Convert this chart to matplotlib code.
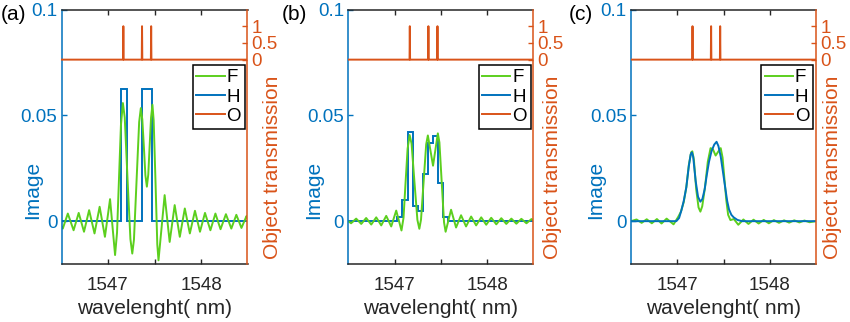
import numpy as np
import matplotlib.pyplot as plt

plt.rcParams['font.family'] = ['Liberation Sans', 'DejaVu Sans']

BLUE = '#0072BD'
RED = '#D95319'
GREEN = '#5CCF1E'

# (a) full image F, hologram image H
wl_fa = [1546.500, 1546.514, 1546.568, 1546.630, 1546.685, 1546.742, 1546.797,
         1546.855, 1546.910, 1546.967, 1547.022, 1547.076, 1547.097, 1547.118,
         1547.139, 1547.160, 1547.180, 1547.210, 1547.241, 1547.261, 1547.279,
         1547.307, 1547.335, 1547.353, 1547.369, 1547.386, 1547.402, 1547.418,
         1547.433, 1547.448, 1547.463, 1547.478, 1547.491, 1547.511, 1547.530,
         1547.543, 1547.576, 1547.609, 1547.663, 1547.717, 1547.772, 1547.826,
         1547.880, 1547.935, 1547.989, 1548.043, 1548.101, 1548.155, 1548.210,
         1548.268, 1548.326, 1548.380, 1548.435, 1548.489, 1548.500]
img_fa = [-0.0025, -0.0035, 0.0036, -0.0043, 0.0039, -0.0050, 0.0052,
          -0.0058, 0.0068, -0.0074, 0.0104, -0.0160, -0.0055, 0.0199,
          0.0453, 0.0558, 0.0490, 0.0200, -0.0085, -0.0153, -0.0088,
          0.0190, 0.0468, 0.0534, 0.0480, 0.0349, 0.0217, 0.0163,
          0.0220, 0.0357, 0.0490, 0.0550, 0.0476, 0.0183, -0.0110,
          -0.0185, -0.0031, 0.0123, -0.0098, 0.0076, -0.0074, 0.0060,
          -0.0058, 0.0049, -0.0050, 0.0039, -0.0043, 0.0036, -0.0038,
          0.0033, -0.0035, 0.0030, -0.0032, 0.0024, 0.0015]
edges_ha = [1546.5, 1547.141, 1547.199, 1547.362, 1547.470, 1548.5]
img_ha = [0, 0.0625, 0, 0.0625, 0]

# (b)
wl_fb = [1546.500, 1546.530, 1546.585, 1546.640, 1546.693, 1546.748, 1546.802,
         1546.856, 1546.910, 1546.964, 1547.018, 1547.075, 1547.097, 1547.119,
         1547.141, 1547.163, 1547.184, 1547.215, 1547.247, 1547.268, 1547.286,
         1547.314, 1547.342, 1547.360, 1547.388, 1547.416, 1547.442, 1547.468,
         1547.485, 1547.510, 1547.535, 1547.552, 1547.611, 1547.665, 1547.719,
         1547.773, 1547.828, 1547.882, 1547.937, 1547.991, 1548.045, 1548.100,
         1548.154, 1548.208, 1548.263, 1548.317, 1548.371, 1548.426, 1548.480,
         1548.500]
img_fb = [0.0, -0.0010, 0.0012, -0.0013, 0.0015, -0.0016, 0.0018,
          -0.0020, 0.0025, -0.0025, 0.0050, -0.0044, 0.0016, 0.0182,
          0.0342, 0.0407, 0.0366, 0.0186, 0.0006, -0.0036, 0.0007,
          0.0185, 0.0363, 0.0405, 0.0334, 0.0262, 0.0338, 0.0415,
          0.0372, 0.0183, -0.0006, -0.0050, 0.0054, -0.0030, 0.0028,
          -0.0025, 0.0022, -0.0020, 0.0018, -0.0017, 0.0016, -0.0015,
          0.0014, -0.0013, 0.0012, -0.0012, 0.0011, -0.0010, 0.0010,
          0.0004]
edges_hb = [1546.5, 1547.03, 1547.085, 1547.14, 1547.195, 1547.25, 1547.305,
            1547.36, 1547.415, 1547.47, 1547.525, 1547.58, 1548.5]
img_hb = [0, 0.0020, 0.0100, 0.0422, 0.0070, 0.0048, 0.0225, 0.0368,
          0.0404, 0.0182, 0.0020, 0]

# (c)
wl_fc = [1546.500, 1546.560, 1546.615, 1546.670, 1546.725, 1546.780, 1546.830,
         1546.885, 1546.960, 1547.010, 1547.040, 1547.070, 1547.098, 1547.125,
         1547.150, 1547.163, 1547.180, 1547.205, 1547.230, 1547.250, 1547.270,
         1547.300, 1547.330, 1547.360, 1547.385, 1547.415, 1547.445, 1547.470,
         1547.490, 1547.510, 1547.530, 1547.550, 1547.575, 1547.612, 1547.660,
         1547.715, 1547.770, 1547.825, 1547.880, 1547.935, 1547.990, 1548.045,
         1548.100, 1548.155, 1548.210, 1548.265, 1548.320, 1548.375, 1548.430,
         1548.500]
img_fc = [0.0, 0.0008, -0.0008, 0.0009, -0.0010, 0.0010, -0.0011,
          0.0012, -0.0015, 0.0020, 0.0045, 0.0090, 0.0160, 0.0265,
          0.0325, 0.0330, 0.0290, 0.0150, 0.0065, 0.0045, 0.0070,
          0.0160, 0.0280, 0.0345, 0.0340, 0.0310, 0.0330, 0.0345,
          0.0300, 0.0200, 0.0100, 0.0030, 0.0005, 0.0010, -0.0017,
          0.0008, -0.0013, 0.0007, -0.0011, 0.0006, -0.0010, 0.0005,
          -0.0008, 0.0004, -0.0007, 0.0004, -0.0006, 0.0003, -0.0005,
          0.0]
wl_hc = [1546.500, 1546.990, 1547.020, 1547.044, 1547.070, 1547.098, 1547.125,
         1547.145, 1547.158, 1547.172, 1547.199, 1547.225, 1547.250, 1547.272,
         1547.296, 1547.320, 1547.343, 1547.370, 1547.400, 1547.425, 1547.445,
         1547.470, 1547.495, 1547.518, 1547.540, 1547.560, 1547.585, 1547.610,
         1547.650, 1547.700, 1548.500]
img_hc = [0.0, 0.0, 0.0015, 0.0050, 0.0095, 0.0160, 0.0260,
          0.0315, 0.0325, 0.0305, 0.0190, 0.0115, 0.0092, 0.0105,
          0.0150, 0.0220, 0.0280, 0.0330, 0.0362, 0.0375, 0.0355,
          0.0305, 0.0230, 0.0160, 0.0095, 0.0055, 0.0030, 0.0018,
          0.0006, 0.0, 0.0]

# object transmission: three narrow lines
obj_wl = [1546.500, 1547.162, 1547.165, 1547.168, 1547.363, 1547.366, 1547.369,
          1547.461, 1547.464, 1547.467, 1548.500]
obj_tr = [0, 0, 1, 0, 0, 1, 0, 0, 1, 0, 0]

panel_tags = ['(a)', '(b)', '(c)']
ax_left = [61.5, 348.3, 631.0]
ax_width = [186.0, 185.0, 185.0]
tag_x = [1.0, 281.5, 569.0]
llabel_x = [-0.106, -0.135, -0.14]
rlabel_x = [1.085, 1.054, 1.038]


def draw_panel(fig, k, f, h, stairs):
    W, H = 850.0, 322.0
    ax = fig.add_axes([ax_left[k] / W, (H - 263.5) / H, ax_width[k] / W, 254.0 / H])
    ax2 = ax.twinx()

    lf, = ax.plot(f[0], f[1], color=GREEN, lw=1.4, label='F')
    if stairs:
        lh = ax.stairs(h[1], h[0], baseline=None, color=BLUE, lw=1.4, label='H')
    else:
        lh, = ax.plot(h[0], h[1], color=BLUE, lw=1.4, label='H')
    lo, = ax2.plot(obj_wl, obj_tr, color=RED, lw=1.4, label='O')

    ax.set_xlim(1546.5, 1548.5)
    ax.set_ylim(-0.02, 0.1)
    ax2.set_ylim(-6.1, 1.5)

    ax.set_xticks([1547, 1547.5, 1548])
    ax.set_xticklabels(['1547', '', '1548'])
    ax.set_yticks([0, 0.05, 0.1])
    ax.set_yticklabels(['0', '0.05', '0.1'])
    ax2.set_yticks([0, 0.5, 1])
    ax2.set_yticklabels(['0', '0.5', '1'])

    ax.tick_params(axis='x', direction='in', top=True, length=3.5, width=1,
                   labelsize=13.5, pad=10, colors='#262626')
    ax.tick_params(axis='y', direction='in', length=3.5, width=1,
                   labelsize=13.5, pad=3, colors=BLUE)
    ax2.tick_params(axis='y', direction='in', length=3.5, width=1,
                    labelsize=13.5, pad=3, colors=RED)

    for s in ['top', 'bottom']:
        ax.spines[s].set_color('#262626')
        ax.spines[s].set_linewidth(1.1)
        ax2.spines[s].set_visible(False)
    ax.spines['left'].set_color(BLUE)
    ax.spines['left'].set_linewidth(1.1)
    ax.spines['right'].set_visible(False)
    ax2.spines['left'].set_visible(False)
    ax2.spines['right'].set_color(RED)
    ax2.spines['right'].set_linewidth(1.1)

    ax.set_xlabel('wavelenght( nm)', fontsize=15, color='#262626', labelpad=3)
    ax.set_ylabel('Image', fontsize=15, color=BLUE)
    ax.yaxis.set_label_coords(llabel_x[k], 0.29)
    ax2.set_ylabel('Object transmission', fontsize=15, color=RED)
    ax2.yaxis.set_label_coords(rlabel_x[k], 0.38)

    leg = ax2.legend([lf, lh, lo], ['F', 'H', 'O'], loc='upper right',
                     bbox_to_anchor=(0.985, 0.78), fontsize=13.5,
                     handlelength=1.5, handletextpad=0.1, borderpad=0.2,
                     labelspacing=0.12, borderaxespad=0, fancybox=False,
                     framealpha=1, edgecolor='black')
    leg.get_frame().set_linewidth(1.1)
    # plain line handles for H even when drawn as stairs
    for ln, c in zip(leg.get_lines(), [GREEN, BLUE, RED]):
        ln.set_color(c)
        ln.set_linewidth(1.4)

    fig.text(tag_x[k] / W, 1 - 15.0 / H, panel_tags[k], fontsize=15,
             va='center', ha='left', color='black')
    return ax


def main():
    fig = plt.figure(figsize=(8.5, 3.22), dpi=100)
    draw_panel(fig, 0, (wl_fa, img_fa), (edges_ha, img_ha), True)
    draw_panel(fig, 1, (wl_fb, img_fb), (edges_hb, img_hb), True)
    draw_panel(fig, 2, (wl_fc, img_fc), (wl_hc, img_hc), False)
    fig.savefig('out.png', dpi=100)
    return


if __name__ == '__main__':
    main()
